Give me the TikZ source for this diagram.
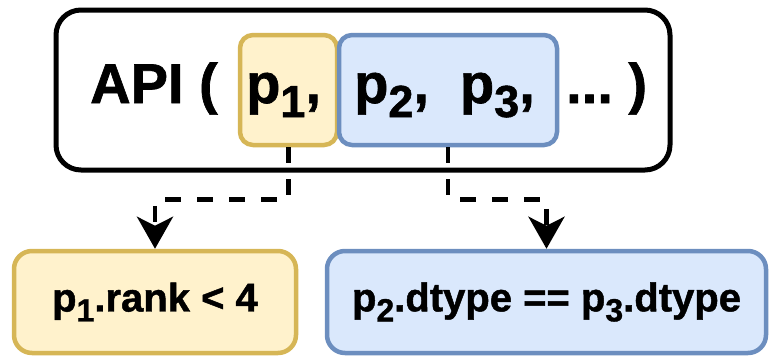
\documentclass[tikz,border=0pt]{standalone}
\usepackage{fontspec}
\setmainfont{Liberation Sans}[BoldFeatures={FakeBold=1.2}]
\usetikzlibrary{arrows.meta}

\definecolor{ylwfill}{HTML}{FFF2CC}
\definecolor{ylwline}{HTML}{D6B656}
\definecolor{blufill}{HTML}{DAE8FC}
\definecolor{bluline}{HTML}{6C8EBF}

% subscripts for the call line and for the constraint boxes
\newcommand\bigsub[1]{\raisebox{-14pt}{\fontsize{45}{45}\selectfont #1}}
\newcommand\smallsub[1]{\raisebox{-10pt}{\fontsize{32}{32}\selectfont #1}}

\begin{document}
\begin{tikzpicture}[x=1pt,y=-1pt,
  frame/.style={draw=black, line width=5pt, rounded corners=25pt, fill=white},
  ybox/.style={draw=ylwline, fill=ylwfill, line width=4.5pt, rounded corners=#1},
  bbox/.style={draw=bluline, fill=blufill, line width=4.5pt, rounded corners=#1},
  headtext/.style={anchor=base west, inner sep=0pt,
    font=\fontsize{56}{60}\selectfont\bfseries},
  checktext/.style={font=\fontsize{40}{44}\selectfont\bfseries},
  link/.style={line width=4.5pt, dash pattern=on 16pt off 16pt,
    -{Stealth[length=32pt,width=36pt,inset=9pt]}}]

\useasboundingbox (0,0) rectangle (769,357);

% call signature
\node[frame, minimum width=614pt, minimum height=160pt] (api) at (363,90) {};
\node[ybox=13pt, minimum width=97pt, minimum height=110pt] (p1box) at (288.5,90) {};
\node[bbox=13pt, minimum width=218pt, minimum height=110pt] (p23box) at (448,90) {};
\node[headtext] (apiname) at (90,103) {API (};
\node[headtext] (p1text) at (246,103) {p\bigsub{1},};
\node[headtext] (p23text) at (354,103) {p\bigsub{2},\hspace{31pt}p\bigsub{3},};
\node[headtext] (rest) at (566,103) {...\ )};

% constraints
\node[ybox=18pt, minimum width=282pt, minimum height=102pt, checktext]
  (rankcheck) at (155,302) {p\smallsub{1}.rank < 4};
\node[bbox=18pt, minimum width=439pt, minimum height=102pt, checktext]
  (dtypecheck) at (546.5,302) {p\smallsub{2}.dtype == p\smallsub{3}.dtype};

% links from parameters to constraints
\draw[link] (p1box.south) -- ++(0,52) -| (rankcheck.north);
\draw[link] (p23box.south) -- ++(0,52) -| (dtypecheck.north);
\end{tikzpicture}
\end{document}
